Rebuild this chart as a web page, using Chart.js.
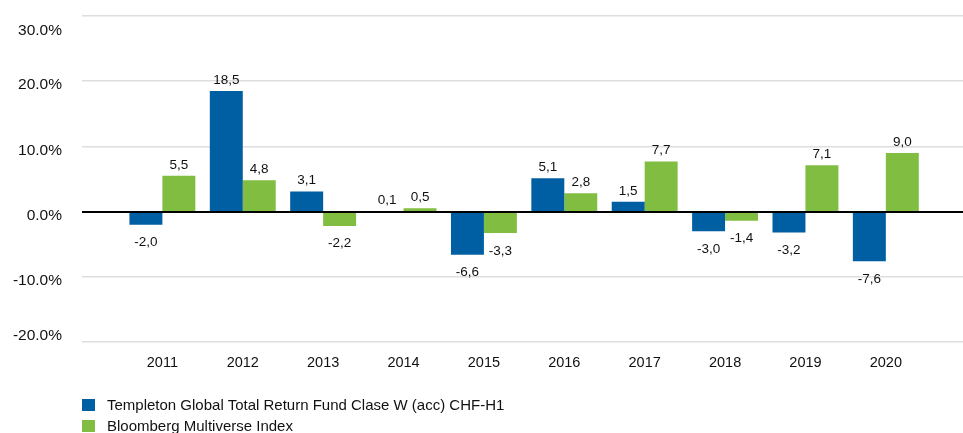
<!DOCTYPE html>
<html>
<head>
<meta charset="utf-8">
<script src="https://cdn.jsdelivr.net/npm/chart.js@4.4.0/dist/chart.umd.min.js"></script>
<style>
    body { margin: 0; background: #fff; }
    #wrap { position: relative; width: 963px; height: 433px; }
    #legend { position: absolute; left: 82px; top: 394px; font: 15px "Liberation Sans", Arial, sans-serif; color: #111; }
    #legend div { height: 21px; display: flex; align-items: center; }
    #legend .box { width: 13px; height: 12px; margin-right: 12px; display: inline-block; }
</style>
</head>
<body>
<div id="wrap">
    <canvas id="barChart"></canvas>
    <div id="legend"></div>
</div>
<script>
// Chart data
var years = ['2011', '2012', '2013', '2014', '2015', '2016', '2017', '2018', '2019', '2020'];
var fundLabel = 'Templeton Global Total Return Fund Clase W (acc) CHF-H1';
var fundValues = [-2.0, 18.5, 3.1, 0.1, -6.6, 5.1, 1.5, -3.0, -3.2, -7.6];
var indexLabel = 'Bloomberg Multiverse Index';
var indexValues = [5.5, 4.8, -2.2, 0.5, -3.3, 2.8, 7.7, -1.4, 7.1, 9.0];
var yMin = -20, yMax = 30, yStep = 10;

var fundColor = '#005ea2';
var indexColor = '#80bd41';
var fontFamily = '"Liberation Sans", Arial, sans-serif';

function toPoints(values) {
    return values.map(function (v, i) { return { x: i, y: v }; });
}

// value labels above / below each bar, plus the zero axis line over the bars
var barLabels = {
    id: 'barLabels',
    afterDatasetsDraw: function (chart) {
        var ctx = chart.ctx;
        var area = chart.chartArea;
        var y0 = Math.round(chart.scales.y.getPixelForValue(0)) + 0.5;
        ctx.save();
        ctx.strokeStyle = '#000';
        ctx.lineWidth = 1.2;
        ctx.beginPath();
        ctx.moveTo(area.left, y0);
        ctx.lineTo(area.right, y0);
        ctx.stroke();

        ctx.font = '13.5px ' + fontFamily;
        ctx.fillStyle = '#111';
        ctx.textAlign = 'center';
        chart.data.datasets.forEach(function (ds, di) {
            chart.getDatasetMeta(di).data.forEach(function (bar, i) {
                var v = ds.data[i].y;
                var text = v.toFixed(1).replace('.', ',');
                if (v >= 0) {
                    ctx.textBaseline = 'alphabetic';
                    ctx.fillText(text, bar.x, bar.y - 7);
                } else {
                    ctx.textBaseline = 'top';
                    ctx.fillText(text, bar.x, bar.y + 11);
                }
            });
        });
        ctx.restore();
    }
};

// y tick labels, outer ones kept inside the plot area like the original
var yLabels = {
    id: 'yLabels',
    afterDraw: function (chart) {
        var ctx = chart.ctx;
        var y = chart.scales.y;
        var area = chart.chartArea;
        ctx.save();
        ctx.font = '15.5px ' + fontFamily;
        ctx.fillStyle = '#111';
        ctx.textAlign = 'right';
        ctx.textBaseline = 'middle';
        y.ticks.forEach(function (t) {
            var py = y.getPixelForValue(t.value) + 4;
            py = Math.max(area.top + 15, Math.min(area.bottom - 6, py));
            ctx.fillText(t.value.toFixed(1) + '%', 62, py);
        });
        ctx.restore();
    }
};

var ctx = document.getElementById('barChart').getContext('2d');
var barChart = new Chart(ctx, {
    type: 'bar',
    data: {
        datasets: [{
            label: fundLabel,
            data: toPoints(fundValues),
            backgroundColor: fundColor,
            categoryPercentage: 0.82,
            barPercentage: 1
        }, {
            label: indexLabel,
            data: toPoints(indexValues),
            backgroundColor: indexColor,
            categoryPercentage: 0.82,
            barPercentage: 1
        }]
    },
    options: {
        responsive: true,
        maintainAspectRatio: false,
        animation: false,
        layout: { padding: { top: 16, bottom: 51, left: 0, right: 0 } },
        plugins: {
            legend: { display: false },
            tooltip: { enabled: false }
        },
        scales: {
            x: {
                type: 'linear',
                min: -1,
                max: 9.96,
                offset: false,
                grid: { display: false, drawTicks: false, offset: false },
                border: { display: false },
                ticks: {
                    stepSize: 1,
                    autoSkip: false,
                    maxRotation: 0,
                    includeBounds: false,
                    padding: 12,
                    color: '#111',
                    font: { family: fontFamily, size: 14.5 },
                    callback: function (v) {
                        return Number.isInteger(v) && years[v] ? years[v] : '';
                    }
                },
                afterFit: function (s) { s.height = 40; }
            },
            y: {
                min: yMin,
                max: yMax,
                border: { display: false },
                grid: {
                    drawTicks: false,
                    color: function (c) { return c.tick && c.tick.value === 0 ? '#000000' : '#dedede'; },
                    lineWidth: function (c) { return c.tick && c.tick.value === 0 ? 1.2 : 1.5; }
                },
                ticks: { display: false, stepSize: yStep },
                afterFit: function (s) { s.width = 82; }
            }
        }
    },
    plugins: [barLabels, yLabels]
});

// legend rows
var legend = document.getElementById('legend');
barChart.data.datasets.forEach(function (ds) {
    var row = document.createElement('div');
    var box = document.createElement('span');
    box.className = 'box';
    box.style.background = ds.backgroundColor;
    row.appendChild(box);
    row.appendChild(document.createTextNode(ds.label));
    legend.appendChild(row);
});
</script>
</body>
</html>
